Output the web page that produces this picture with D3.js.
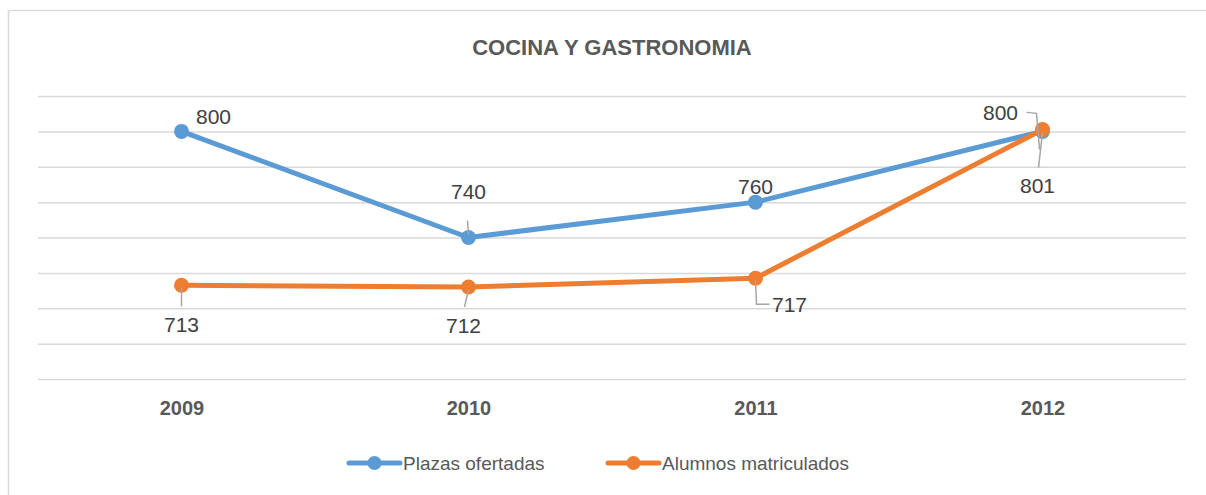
<!DOCTYPE html>
<html>
<head>
<meta charset="utf-8">
<script src="https://cdn.jsdelivr.net/npm/d3@7"></script>
<style>
  html, body { margin: 0; padding: 0; background: #fff; }
  svg { display: block; font-family: "Liberation Sans", Arial, sans-serif; }
</style>
</head>
<body>
<svg width="1206" height="495"></svg>
<script>
const years = ["2009", "2010", "2011", "2012"];
const plazas = [800, 740, 760, 800];
const alumnos = [713, 712, 717, 801];
const seriesNames = ["Plazas ofertadas", "Alumnos matriculados"];
const seriesColors = ["#5B9BD5", "#ED7D31"];

// label placement relative to its point (dx, dy) and leader line style
const plazasLabels = [
  {dx: 32, dy: -15, leader: null},
  {dx: 0, dy: -46, leader: "up"},
  {dx: 0, dy: -16, leader: null},
  {dx: -42, dy: -19, leader: "elbowLeft"}
];
const alumnosLabels = [
  {dx: 0, dy: 39, leader: "down"},
  {dx: -5, dy: 38, leader: "down"},
  {dx: 34, dy: 26, leader: "elbowRight"},
  {dx: -5, dy: 56, leader: "down"}
];

const svg = d3.select("svg");
const margin = {top: 96, right: 20, bottom: 116, left: 38};
const plotW = 1186 - margin.left;

// chart frame
svg.append("rect")
  .attr("x", 8.5).attr("y", 10.5)
  .attr("width", 1230).attr("height", 500)
  .attr("fill", "#fff")
  .attr("stroke", "#d9d9d9")
  .attr("stroke-width", 1.5);

svg.append("text")
  .attr("x", 612).attr("y", 55)
  .attr("text-anchor", "middle")
  .attr("font-size", 22).attr("font-weight", "bold")
  .attr("fill", "#595959")
  .text("COCINA Y GASTRONOMIA");

const x = d3.scalePoint().domain(years).range([margin.left, margin.left + plotW]).padding(0.5);
const y = d3.scaleLinear().domain([660, 820]).range([379, 96]);

const grid = svg.append("g")
  .attr("transform", `translate(${margin.left},0)`)
  .call(d3.axisLeft(y).tickValues(d3.range(660, 821, 20)).tickSize(-plotW).tickFormat(""));
grid.select(".domain").remove();
grid.selectAll(".tick line").attr("stroke", "#d9d9d9").attr("stroke-width", 1.5);

const xAxis = svg.append("g")
  .attr("transform", "translate(0,379)")
  .call(d3.axisBottom(x).tickSize(0).tickPadding(22));
xAxis.select(".domain").remove();
xAxis.selectAll("text")
  .attr("font-family", "Liberation Sans, Arial, sans-serif")
  .attr("font-size", 20).attr("font-weight", "bold")
  .attr("fill", "#595959");

const line = d3.line().x((d, i) => x(years[i])).y(d => y(d));

function drawSeries(values, color) {
  const g = svg.append("g");
  g.append("path")
    .datum(values)
    .attr("d", line)
    .attr("fill", "none")
    .attr("stroke", color)
    .attr("stroke-width", 5)
    .attr("stroke-linecap", "round")
    .attr("stroke-linejoin", "round");
  g.selectAll("circle")
    .data(values)
    .join("circle")
    .attr("cx", (d, i) => x(years[i]))
    .attr("cy", d => y(d))
    .attr("r", 7.5)
    .attr("fill", color);
  return g;
}

function drawLabels(values, labels) {
  values.forEach((v, i) => {
    const px = x(years[i]), py = y(v);
    const L = labels[i];
    const tx = px + L.dx, ty = py + L.dy;
    let pts = null;
    if (L.leader === "up") pts = [[px, py - 3], [px - 1, py - 17]];
    if (L.leader === "down") pts = [[px, py + 3], [tx + (px - tx) * 0.2, ty - 18]];
    if (L.leader === "elbowRight") pts = [[px, py + 2], [px + 1, ty], [tx - 20, ty]];
    if (L.leader === "elbowLeft") pts = [[tx + 26, ty], [tx + 36, ty + 1], [px - 3, py + 18]];
    if (pts) {
      svg.append("path")
        .attr("d", d3.line()(pts))
        .attr("fill", "none")
        .attr("stroke", "#a6a6a6")
        .attr("stroke-width", 1.5);
    }
    svg.append("text")
      .attr("x", tx).attr("y", ty)
      .attr("text-anchor", "middle")
      .attr("dominant-baseline", "central")
      .attr("font-size", 21)
      .attr("fill", "#404040")
      .text(v);
  });
}

drawSeries(plazas, seriesColors[0]);
drawSeries(alumnos, seriesColors[1]);
drawLabels(plazas, plazasLabels);
drawLabels(alumnos, alumnosLabels);

// legend
const legend = svg.append("g").attr("transform", "translate(0,463)");
const legendX = [349, 608];
seriesNames.forEach((name, i) => {
  const g = legend.append("g").attr("transform", `translate(${legendX[i]},0)`);
  g.append("line")
    .attr("x1", 0).attr("x2", 51)
    .attr("stroke", seriesColors[i]).attr("stroke-width", 5)
    .attr("stroke-linecap", "round");
  g.append("circle").attr("cx", 25.5).attr("r", 7).attr("fill", seriesColors[i]);
  g.append("text")
    .attr("x", 54).attr("y", 0)
    .attr("dominant-baseline", "central")
    .attr("font-size", 19)
    .attr("fill", "#595959")
    .text(name);
});
</script>
</body>
</html>
